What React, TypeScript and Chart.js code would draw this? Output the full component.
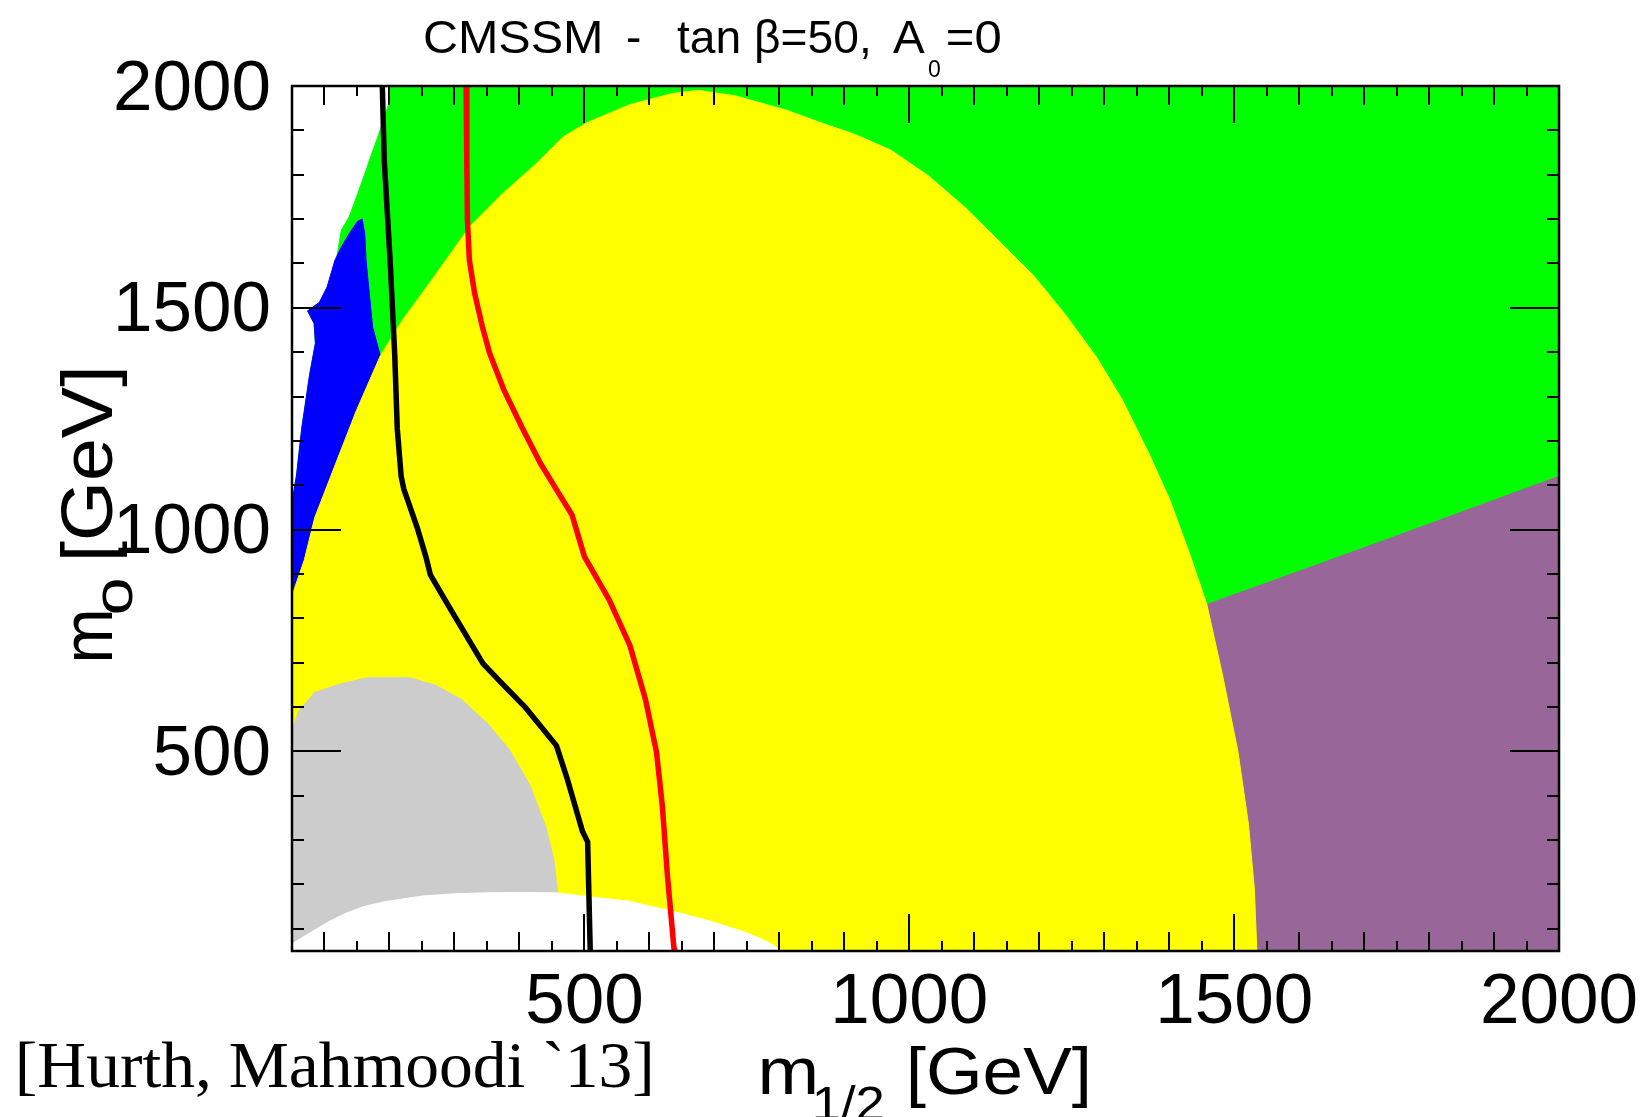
import React, { useEffect, useRef } from 'react';
import { Chart, registerables } from 'chart.js';

Chart.register(...registerables);

// ---------- data (m1/2 [GeV], m0 [GeV]) ----------
const xTickLabels = [500, 1000, 1500, 2000];
const yTickLabels = [500, 1000, 1500, 2000];
const xMajorTicks = [500, 1000, 1500];
const xMinorTicks = [100, 150, 200, 250, 300, 350, 400, 450, 550, 600, 650, 700, 750, 800, 850, 900, 950,
  1050, 1100, 1150, 1200, 1250, 1300, 1350, 1400, 1450, 1550, 1600, 1650, 1700, 1750, 1800, 1850, 1900, 1950];
const yMajorTicks = [500, 1000, 1500];
const yMinorTicks = [100, 200, 300, 400, 600, 700, 800, 900, 1100, 1200, 1300, 1400, 1600, 1700, 1800, 1900];

const greenRegion = [[200, 2000], [2000, 2000], [2000, 50], [50, 50], [50, 1060], [57, 1123], [65, 1228], [77, 1348],
  [86, 1420], [84, 1465], [74, 1493], [92, 1512], [110, 1547], [118, 1607], [126, 1675], [138, 1705], [151, 1757],
  [164, 1810], [169, 1832], [182, 1885], [199, 1960], [200, 2000]];

const purpleRegion = [[1400, 800], [1458, 831], [1730, 975], [2000, 1120], [2000, 50], [1400, 50]];

const blueRegion = [[50, 1060], [57, 1123], [65, 1228], [77, 1348], [86, 1420], [84, 1465], [74, 1493], [92, 1512],
  [104, 1547], [116, 1607], [126, 1637], [138, 1667], [151, 1695], [158, 1700], [162, 1667], [164, 1607], [169, 1532],
  [174, 1457], [185, 1397], [190, 1386], [170, 1320], [140, 1200], [100, 1050], [60, 850], [50, 800]];

const yellowRegion = [[50, 851], [69, 932], [85, 1027], [117, 1148], [149, 1268], [186, 1392], [220, 1472], [272, 1577],
  [323, 1682], [374, 1757], [426, 1825], [467, 1885], [505, 1918], [570, 1958], [635, 1983], [675, 1990], [732, 1978],
  [812, 1945], [868, 1915], [916, 1891], [972, 1855], [1029, 1798], [1086, 1726], [1142, 1645], [1191, 1573],
  [1240, 1485], [1288, 1389], [1328, 1292], [1369, 1171], [1401, 1067], [1433, 939], [1458, 831], [1482, 673],
  [1506, 498], [1522, 336], [1531, 192], [1535, 50], [50, 50]];

const grayRegion = [[50, 545], [60, 590], [85, 633], [125, 652], [166, 666], [231, 666], [271, 649], [311, 617],
  [352, 561], [384, 505], [416, 424], [441, 328], [453, 255], [459, 181], [459, 60], [50, 50]];

const whiteRegion = [[50, 50], [805, 50], [780, 72], [750, 91], [692, 118], [635, 140], [604, 150], [570, 162],
  [515, 171], [459, 181], [400, 182], [345, 181], [300, 179], [251, 174], [192, 161], [160, 150], [133, 135],
  [105, 115], [80, 93], [65, 80], [50, 66]];

const blackLine = [[189, 2000], [192, 1832], [201, 1607], [208, 1398], [212, 1228], [218, 1120], [222, 1092],
  [243, 1003], [256, 939], [263, 898], [295, 818], [344, 698], [376, 649], [408, 601], [457, 513], [473, 441],
  [497, 320], [505, 296], [509, 50]];

const redLine = [[318, 2000], [319, 1832], [320, 1697], [323, 1607], [331, 1533], [343, 1457], [354, 1398],
  [376, 1315], [404, 1230], [432, 1150], [457, 1090], [481, 1033], [500, 939], [538, 842], [570, 739], [594, 617],
  [611, 498], [620, 376], [628, 216], [638, 54], [639, 50]];

const toPts = (a: number[][]) => a.map(([x, y]) => ({ x, y }));

const SANS = '"Liberation Sans", Arial, Helvetica, sans-serif';
const SERIF = '"Liberation Serif", "Times New Roman", serif';

function inkText(ctx: CanvasRenderingContext2D, text: string, inkLeft: number, baseline: number, font: string, inkWidth?: number) {
  ctx.save();
  ctx.font = font;
  ctx.textAlign = 'left';
  ctx.textBaseline = 'alphabetic';
  const m = ctx.measureText(text);
  const natural = m.actualBoundingBoxLeft + m.actualBoundingBoxRight;
  const s = inkWidth ? inkWidth / natural : 1;
  ctx.translate(inkLeft + m.actualBoundingBoxLeft * s, baseline);
  ctx.scale(s, 1);
  ctx.fillStyle = '#000';
  ctx.fillText(text, 0, 0);
  ctx.restore();
}

const decorPlugin = {
  id: 'rootDecor',
  afterDraw(chart: any) {
    const ctx: CanvasRenderingContext2D = chart.ctx;
    const xs = chart.scales.x;
    const ys = chart.scales.y;
    const { left, right, top, bottom } = chart.chartArea;
    ctx.save();
    ctx.strokeStyle = '#000';
    ctx.lineWidth = 2;
    ctx.beginPath();
    const seg = (x1: number, y1: number, x2: number, y2: number) => { ctx.moveTo(x1, y1); ctx.lineTo(x2, y2); };
    for (const v of xMajorTicks) {
      const p = Math.round(xs.getPixelForValue(v));
      seg(p, bottom, p, bottom - 37); seg(p, top, p, top + 37);
    }
    for (const v of xMinorTicks) {
      const p = Math.round(xs.getPixelForValue(v));
      const len = v % 100 === 0 ? 19 : 10;
      seg(p, bottom, p, bottom - len); seg(p, top, p, top + len);
    }
    for (const v of yMajorTicks) {
      const p = Math.round(ys.getPixelForValue(v));
      seg(left, p, left + 49, p); seg(right, p, right - 49, p);
    }
    for (const v of yMinorTicks) {
      const p = Math.round(ys.getPixelForValue(v));
      seg(left, p, left + 12, p); seg(right, p, right - 12, p);
    }
    ctx.stroke();
    ctx.lineWidth = 2.5;
    ctx.strokeRect(left, top, right - left, bottom - top);
    ctx.restore();

    // title
    inkText(ctx, 'CMSSM', 425, 53, `46px ${SANS}`, 175);
    inkText(ctx, '-', 628, 53, `46px ${SANS}`);
    inkText(ctx, 'tan β=50,', 677, 53, `46px ${SANS}`, 191);
    inkText(ctx, 'A', 893, 53, `46px ${SANS}`, 32);
    inkText(ctx, '0', 928, 77, `23px ${SANS}`);
    inkText(ctx, '=0', 948, 53, `46px ${SANS}`, 52);

    // x axis title
    inkText(ctx, 'm', 762, 1094, `67px ${SANS}`, 53);
    inkText(ctx, '1/2', 815, 1120, `48px ${SANS}`, 68);
    inkText(ctx, '[GeV]', 910, 1094, `67px ${SANS}`, 177);

    // y axis title (rotated)
    ctx.save();
    ctx.translate(112, 660);
    ctx.rotate(-Math.PI / 2);
    inkText(ctx, 'm', 0, 0, `73px ${SANS}`, 47);
    inkText(ctx, 'o', 47, 20, `56px ${SANS}`, 33);
    inkText(ctx, '[GeV]', 103, 0, `73px ${SANS}`, 187);
    ctx.restore();

    // citation
    inkText(ctx, '[Hurth, Mahmoodi `13]', 19, 1087, `65px ${SERIF}`, 631);
  },
};

const region = (data: number[][], color: string) => ({
  data: toPts(data),
  fill: 'shape' as const,
  backgroundColor: color,
  borderColor: color,
  borderWidth: 1,
  pointRadius: 0,
  tension: 0,
});

const contour = (data: number[][], color: string) => ({
  data: toPts(data),
  fill: false,
  borderColor: color,
  borderWidth: 5.5,
  borderJoinStyle: 'round' as const,
  pointRadius: 0,
  tension: 0,
  clip: 0,
});

export default function App() {
  const ref = useRef<HTMLCanvasElement>(null);
  useEffect(() => {
    document.body.style.margin = '0';
    const chart = new Chart(ref.current as HTMLCanvasElement, {
      type: 'line',
      data: {
        datasets: [
          contour(redLine, '#ff0000'),
          contour(blackLine, '#000000'),
          region(whiteRegion, '#ffffff'),
          region(grayRegion, '#cccccc'),
          region(yellowRegion, '#ffff00'),
          region(blueRegion, '#0000ff'),
          region(purpleRegion, '#996699'),
          region(greenRegion, '#00ff00'),
        ] as any,
      },
      options: {
        responsive: false,
        animation: false,
        devicePixelRatio: 1,
        layout: { padding: { top: 86, right: 86, left: 0, bottom: 0 } },
        plugins: { legend: { display: false }, tooltip: { enabled: false }, title: { display: false } },
        scales: {
          x: {
            type: 'linear', min: 50, max: 2000, position: 'bottom',
            grid: { display: false, drawTicks: false }, border: { display: false },
            afterBuildTicks: (s: any) => { s.ticks = xTickLabels.map((value) => ({ value })); },
            afterFit: (s: any) => { s.height = 166; },
            ticks: {
              padding: 10, color: '#000', autoSkip: false, maxRotation: 0, minRotation: 0,
              font: { family: SANS, size: 71, lineHeight: 1.2 },
              callback: (v: any) => String(v),
            },
          },
          y: {
            type: 'linear', min: 50, max: 2000, position: 'left',
            grid: { display: false, drawTicks: false }, border: { display: false },
            afterBuildTicks: (s: any) => { s.ticks = yTickLabels.map((value) => ({ value })); },
            afterFit: (s: any) => { s.width = 292; },
            ticks: {
              padding: 21, labelOffset: 4, color: '#000', autoSkip: false,
              font: { family: SANS, size: 71, lineHeight: 1.2 },
              callback: (v: any) => String(v),
            },
          },
        },
      } as any,
      plugins: [decorPlugin],
    });
    return () => chart.destroy();
  }, []);
  return (
    <div style={{ position: 'absolute', left: 0, top: 0, width: 1648, height: 1117, background: '#fff', overflow: 'hidden' }}>
      <canvas ref={ref} width={1648} height={1117} style={{ display: 'block', width: 1648, height: 1117 }} />
    </div>
  );
}
